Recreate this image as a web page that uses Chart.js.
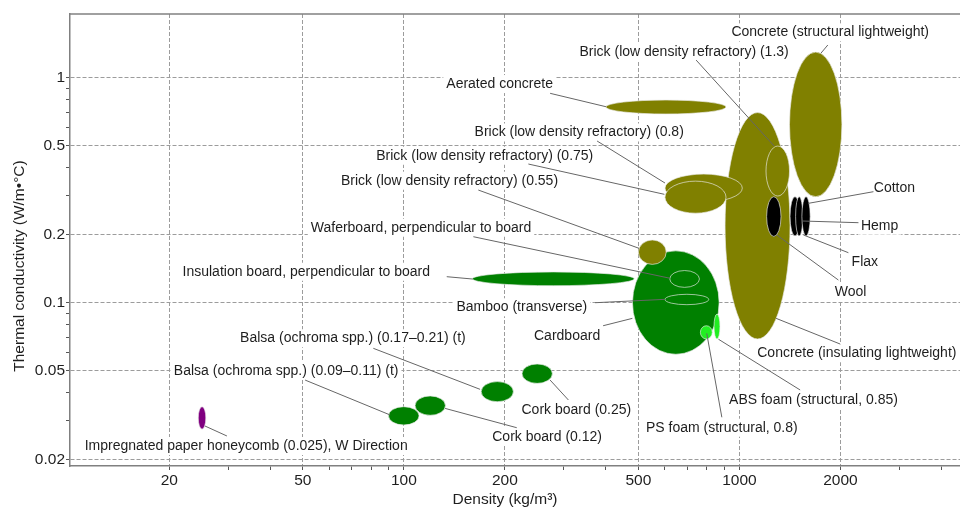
<!DOCTYPE html>
<html>
<head>
<meta charset="utf-8">
<script src="https://cdn.jsdelivr.net/npm/chart.js@4.4.1/dist/chart.umd.min.js"></script>
<style>
  html, body { margin: 0; padding: 0; background: #fff; overflow: hidden; }
  #wrap { width: 980px; height: 509px; }
</style>
</head>
<body>
<div id="wrap"><canvas id="chart"></canvas></div>
<script>
// materials, listed in drawing order (later ones sit on top)
const materials = [
    "Impregnated paper honeycomb (0.025), W Direction",
    "Balsa (ochroma spp.) (0.09–0.11) (t)",
    "Cork board (0.12)",
    "Balsa (ochroma spp.) (0.17–0.21) (t)",
    "Cork board (0.25)",
    "Insulation board, perpendicular to board",
    "Cardboard",
    "Waferboard, perpendicular to board",
    "Bamboo (transverse)",
    "PS foam (structural, 0.8)",
    "ABS foam (structural, 0.85)",
    "Brick (low density refractory) (0.55)",
    "Aerated concrete",
    "Concrete (insulating lightweight)",
    "Brick (low density refractory) (0.8)",
    "Brick (low density refractory) (0.75)",
    "Brick (low density refractory) (1.3)",
    "Concrete (structural lightweight)",
    "Wool",
    "Hemp",
    "Flax",
    "Cotton",
];
const groups = [
    "honeycomb", "natural", "natural", "natural", "natural", "natural",
    "natural", "natural", "natural", "foam", "foam", "ceramic", "ceramic",
    "ceramic", "ceramic", "ceramic", "ceramic", "ceramic",
    "fibre", "fibre", "fibre", "fibre",
];

// density range (kg/m3)
const densityMin = [24.4, 90, 108, 170, 225, 160, 480, 620, 600, 765, 840, 500, 400, 906, 600, 600, 1200, 1410, 1205, 1415, 1470, 1535];
const densityMax = [25.7, 111, 133, 212, 277, 486, 870, 760, 810, 830, 875, 605, 912, 1415, 1020, 912, 1410, 2020, 1330, 1515, 1545, 1625];
// thermal conductivity range (W/m.°C)
const kMin = [0.0274, 0.0286, 0.0316, 0.0363, 0.0438, 0.119, 0.059, 0.117, 0.098, 0.069, 0.069, 0.148, 0.69, 0.069, 0.28, 0.25, 0.298, 0.296, 0.197, 0.198, 0.198, 0.198];
const kMax = [0.0345, 0.0345, 0.0385, 0.0446, 0.0534, 0.137, 0.17, 0.139, 0.109, 0.079, 0.089, 0.19, 0.796, 0.70, 0.373, 0.347, 0.497, 1.30, 0.296, 0.296, 0.296, 0.296];

// axis ticks
const xTicks = [20, 30, 40, 50, 60, 70, 80, 90, 100, 200, 300, 400, 500, 600, 700, 800, 900, 1000, 2000, 3000, 4000];
const xTickLabels = [20, 50, 100, 200, 500, 1000, 2000];
const yTicks = [0.02, 0.03, 0.04, 0.05, 0.06, 0.07, 0.08, 0.09, 0.1, 0.2, 0.3, 0.4, 0.5, 0.6, 0.7, 0.8, 0.9, 1];
const yTickLabels = [0.02, 0.05, 0.1, 0.2, 0.5, 1];

// annotation layout, in data units: label centre, leader start, leader end
const labelX = [33.9, 44.6, 267.2, 70.5, 326.6, 51.2, 306.5, 112.5, 224.6, 886.3, 1662, 136.8, 192.9, 2238, 333, 174.2, 684.1, 1864, 2145, 2617, 2364, 2897];
const labelY = [0.02307, 0.0498, 0.02537, 0.0695, 0.03334, 0.1373, 0.0711, 0.2154, 0.0954, 0.02782, 0.03694, 0.3485, 0.9375, 0.0596, 0.571, 0.45, 1.305, 1.591, 0.1119, 0.22, 0.1521, 0.3225];
const leaderFrom = [[29.7, 0.02556], [50.8, 0.0453], [217, 0.02782], [81.1, 0.0627], [309.3, 0.03694], [134.2, 0.1305], [392.4, 0.079], [161.1, 0.1965], [371.5, 0.1], [886.3, 0.03095], [1517, 0.04093], [166.7, 0.3168], [272.8, 0.8525], [1996, 0.0655], [376.6, 0.5232], [235, 0.4135], [743, 1.198], [1834, 1.398], [1972, 0.1261], [2263, 0.2268], [2112, 0.1668], [2508, 0.3115]];
const leaderTo = [[25.55, 0.02831], [91, 0.0317], [132.7, 0.0339], [168.7, 0.0412], [272.8, 0.0453], [160.4, 0.1274], [479.8, 0.0852], [621.5, 0.1284], [600, 0.1035], [799, 0.0731], [866, 0.0688], [502, 0.1745], [400.6, 0.743], [1286, 0.0852], [600, 0.3404], [597.6, 0.3032], [1269, 0.497], [1748, 1.284], [1292, 0.2], [1545, 0.2307], [1551, 0.2], [1605, 0.2765]];

const groupColors = {
    honeycomb: "#800080",
    natural: "#008000",
    foam: "#22ee22",
    ceramic: "#808000",
    fibre: "#000000",
};

const FONT = "'Liberation Sans', Arial, sans-serif";
const TEXT = "#1e1e1e";

const bubbles = {
    id: "bubbles",
    beforeDatasetsDraw(chart) {
        const { ctx, scales: { x, y } } = chart;
        ctx.save();
        ctx.font = "14px " + FONT;

        // white boxes behind the labels hide the grid
        materials.forEach((name, i) => {
            const px = x.getPixelForValue(labelX[i]);
            const py = y.getPixelForValue(labelY[i]);
            const w = ctx.measureText(name).width;
            ctx.fillStyle = "#fff";
            ctx.fillRect(px - w / 2 - 3, py - 9, w + 6, 18);
        });

        // ellipses spanning each property range
        materials.forEach((name, i) => {
            const x1 = x.getPixelForValue(densityMin[i]);
            const x2 = x.getPixelForValue(densityMax[i]);
            const y1 = y.getPixelForValue(kMin[i]);
            const y2 = y.getPixelForValue(kMax[i]);
            ctx.beginPath();
            ctx.ellipse((x1 + x2) / 2, (y1 + y2) / 2, Math.abs(x2 - x1) / 2, Math.abs(y1 - y2) / 2, 0, 0, Math.PI * 2);
            ctx.fillStyle = groupColors[groups[i]];
            ctx.fill();
            ctx.lineWidth = 1;
            ctx.strokeStyle = "rgba(235,235,235,0.65)";
            ctx.stroke();
        });

        // leader lines
        ctx.strokeStyle = "#666";
        ctx.lineWidth = 1;
        materials.forEach((name, i) => {
            ctx.beginPath();
            ctx.moveTo(x.getPixelForValue(leaderFrom[i][0]), y.getPixelForValue(leaderFrom[i][1]));
            ctx.lineTo(x.getPixelForValue(leaderTo[i][0]), y.getPixelForValue(leaderTo[i][1]));
            ctx.stroke();
        });

        // labels
        ctx.fillStyle = TEXT;
        ctx.textAlign = "center";
        ctx.textBaseline = "middle";
        materials.forEach((name, i) => {
            ctx.fillText(name, x.getPixelForValue(labelX[i]), y.getPixelForValue(labelY[i]));
        });
        ctx.restore();
    },
    afterDraw(chart) {
        const { ctx, chartArea } = chart;
        ctx.save();
        // top frame line
        ctx.strokeStyle = "#808080";
        ctx.lineWidth = 1.5;
        ctx.beginPath();
        ctx.moveTo(chartArea.left, chartArea.top);
        ctx.lineTo(chartArea.right, chartArea.top);
        ctx.stroke();

        // axis titles
        ctx.fillStyle = TEXT;
        ctx.font = "15.5px " + FONT;
        ctx.textAlign = "center";
        ctx.textBaseline = "middle";
        ctx.fillText("Density (kg/m³)", 505, 500);
        ctx.translate(20, 266);
        ctx.rotate(-Math.PI / 2);
        ctx.fillText("Thermal conductivity (W/m•°C)", 0, 0);
        ctx.restore();
    },
};

const ctx = document.getElementById("chart").getContext("2d");
new Chart(ctx, {
    type: "scatter",
    data: {
        datasets: [
            {
                data: materials.map((m, i) => ({
                    x: Math.sqrt(densityMin[i] * densityMax[i]),
                    y: Math.sqrt(kMin[i] * kMax[i]),
                })),
                pointRadius: 0,
                pointHoverRadius: 0,
            },
        ],
    },
    options: {
        responsive: true,
        maintainAspectRatio: false,
        animation: false,
        layout: {
            padding: { top: 14, right: 6, left: 0, bottom: 0 },
        },
        plugins: {
            legend: { display: false },
            tooltip: { enabled: false },
        },
        scales: {
            x: {
                type: "logarithmic",
                min: 10.12,
                max: 5000,
                afterBuildTicks: (s) => {
                    s.ticks = xTicks.map((v) => ({ value: v }));
                },
                afterFit: (s) => {
                    s.height = 43;
                },
                ticks: {
                    autoSkip: false,
                    maxRotation: 0,
                    padding: 1,
                    color: TEXT,
                    font: { family: FONT, size: 15.5 },
                    callback: (v) => (xTickLabels.includes(v) ? String(v) : ""),
                },
                grid: {
                    color: (c) => (c.tick && xTickLabels.includes(c.tick.value) ? "#9c9c9c" : "transparent"),
                    lineWidth: 1,
                    tickLength: 4,
                    tickColor: "#555",
                },
                border: {
                    color: "#808080",
                    width: 1.5,
                    dash: [4, 2],
                },
            },
            y: {
                type: "logarithmic",
                min: 0.0188,
                max: 1.92,
                afterBuildTicks: (s) => {
                    s.ticks = yTicks.map((v) => ({ value: v }));
                },
                afterFit: (s) => {
                    s.width = 70;
                },
                ticks: {
                    autoSkip: false,
                    padding: 1,
                    color: TEXT,
                    font: { family: FONT, size: 15.5 },
                    callback: (v) => (yTickLabels.includes(v) ? String(v) : ""),
                },
                grid: {
                    color: (c) => (c.tick && yTickLabels.includes(c.tick.value) ? "#9c9c9c" : "transparent"),
                    lineWidth: 1,
                    tickLength: 4,
                    tickColor: "#555",
                },
                border: {
                    color: "#808080",
                    width: 1.5,
                    dash: [4, 2],
                },
            },
        },
    },
    plugins: [bubbles],
});
</script>
</body>
</html>
